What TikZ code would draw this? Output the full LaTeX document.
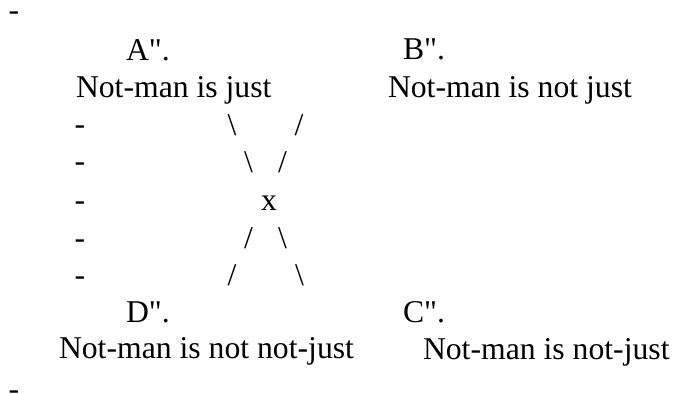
\documentclass[tikz,border=0pt]{standalone}
\usepackage{fontspec}
\setmainfont{Liberation Serif}
\usepackage{tikz}

\begin{document}
\begin{tikzpicture}[
  x=1pt, y=-1pt,
  every node/.style={inner sep=0pt, outer sep=0pt, font=\fontsize{31.7}{38}\selectfont},
  lbl/.style={anchor=base west},
  glyph/.style={anchor=base},
]
  \useasboundingbox (0,0) rectangle (673,394);

  % Outer dashes
  \node[glyph] (dtop) at (14,20) {-};
  \node[glyph] (dbot) at (14,399) {-};

  % Upper pair
  \node[lbl] (ta) at (126,60) {A\textquotedbl.};
  \node[lbl] (tb) at (403,59) {B\textquotedbl.};
  \node[lbl] (sa) at (76,97) {Not-man is just};
  \node[lbl] (sb) at (388,97) {Not-man is not just};

  % Left column of dashes
  \foreach \y [count=\i] in {134,171,210,248,285}
    \node[glyph] (d\i) at (80,\y) {-};

  % Cross
  \node[glyph] (bs1) at (232,135) {\textbackslash};
  \node[glyph] (sl1) at (299,135) {/};
  \node[glyph] (bs2) at (248.5,172) {\textbackslash};
  \node[glyph] (sl2) at (282.5,172) {/};
  \node[glyph] (cx) at (269,210) {x};
  \node[glyph] (sl3) at (248.5,248) {/};
  \node[glyph] (bs3) at (282.5,248) {\textbackslash};
  \node[glyph] (sl4) at (232,285) {/};
  \node[glyph] (bs4) at (299.5,285) {\textbackslash};

  % Lower pair
  \node[lbl] (td) at (126,322) {D\textquotedbl.};
  \node[lbl] (tc) at (403,322) {C\textquotedbl.};
  \node[lbl] (sd) at (59,358) {Not-man is not not-just};
  \node[lbl] (sc) at (423,359) {Not-man is not-just};
\end{tikzpicture}
\end{document}
